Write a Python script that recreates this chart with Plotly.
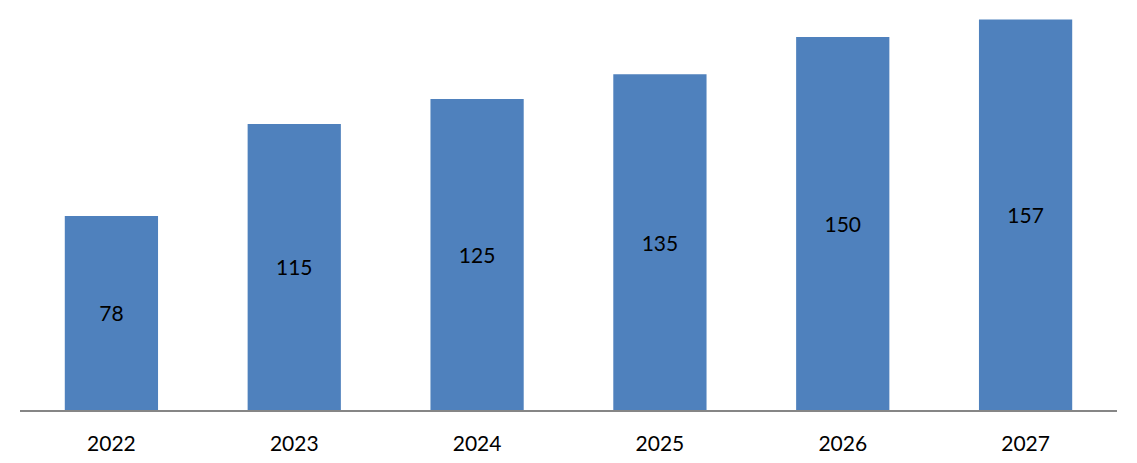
import plotly.graph_objects as go

# ── Data ──────────────────────────────────────────────────────────────────────
years  = ["2022", "2023", "2024", "2025", "2026", "2027"]
values = [78, 115, 125, 135, 150, 157]

# ── Style ─────────────────────────────────────────────────────────────────────
_BAR  = "#4F81BD"
_AXIS = "#868686"
_FONT = dict(family="Lato, 'Open Sans', sans-serif", size=21, color="#000000")

fig = go.Figure()

fig.add_trace(go.Bar(
    x=years,
    y=values,
    marker_color=_BAR,
    marker_line_width=0,
    text=[str(v) for v in values],
    textposition="inside",
    insidetextanchor="middle",
    textfont=dict(size=21, color="#000000"),
))

# page body has an 8px margin, so the figure is sized to sit inside it
fig.update_layout(
    width=1121,
    height=447,
    font=_FONT,
    plot_bgcolor="white",
    paper_bgcolor="white",
    margin=dict(t=4, b=45, l=12, r=12),
    bargap=0.49,
    showlegend=False,
    xaxis=dict(
        showline=True,
        linecolor=_AXIS,
        linewidth=1.5,
        ticks="",
        ticklabelstandoff=14,
        automargin=False,
        showgrid=False,
        tickfont=dict(size=21, color="#000000"),
    ),
    yaxis=dict(
        range=[0, 160],
        visible=False,
        showgrid=False,
        zeroline=False,
    ),
)

fig.write_html("out.html")
